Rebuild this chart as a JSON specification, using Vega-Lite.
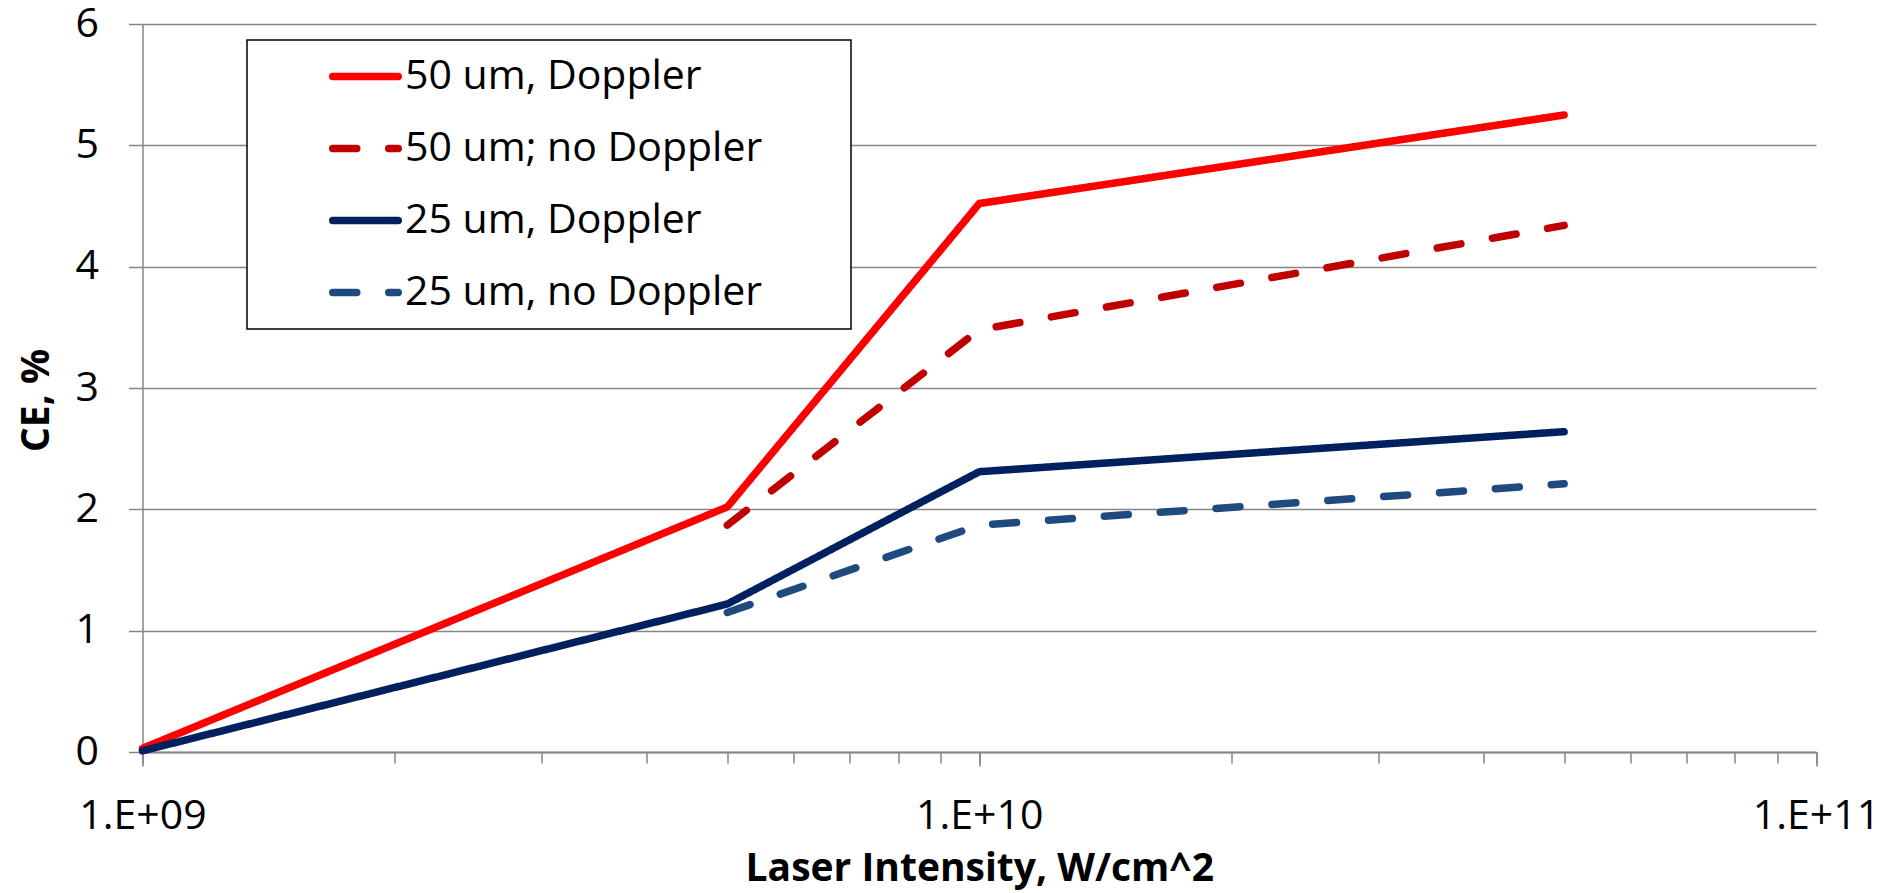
{
  "$schema": "https://vega.github.io/schema/vega-lite/v6.json",
  "width": 1673.5,
  "height": 728,
  "autosize": {"type": "none"},
  "padding": {"left": 142.5, "top": 24, "right": 77, "bottom": 141},
  "background": "white",
  "config": {"view": {"stroke": null}, "font": "Open Sans", "legend": {"strokeWidth": 1.5}},
  "data": {
    "values": [
      {"series": "50 um, Doppler", "intensity": 1000000000, "ce": 0.03},
      {"series": "50 um, Doppler", "intensity": 5000000000, "ce": 2.02},
      {"series": "50 um, Doppler", "intensity": 10000000000, "ce": 4.52},
      {"series": "50 um, Doppler", "intensity": 50000000000, "ce": 5.25},
      {"series": "50 um; no Doppler", "intensity": 5000000000, "ce": 1.87},
      {"series": "50 um; no Doppler", "intensity": 10000000000, "ce": 3.48},
      {"series": "50 um; no Doppler", "intensity": 50000000000, "ce": 4.34},
      {"series": "25 um, Doppler", "intensity": 1000000000, "ce": 0.01},
      {"series": "25 um, Doppler", "intensity": 5000000000, "ce": 1.22},
      {"series": "25 um, Doppler", "intensity": 10000000000, "ce": 2.31},
      {"series": "25 um, Doppler", "intensity": 50000000000, "ce": 2.64},
      {"series": "25 um, no Doppler", "intensity": 5000000000, "ce": 1.15},
      {"series": "25 um, no Doppler", "intensity": 10000000000, "ce": 1.87},
      {"series": "25 um, no Doppler", "intensity": 50000000000, "ce": 2.21}
    ]
  },
  "layer": [
    {
      "mark": {"type": "line", "strokeWidth": 7.5, "strokeCap": "round", "strokeJoin": "round"},
      "encoding": {
        "x": {
          "field": "intensity", "type": "quantitative",
          "scale": {"type": "log", "domain": [1000000000, 100000000000], "nice": false},
          "axis": {
            "orient": "bottom",
            "values": [1000000000, 2000000000, 3000000000, 4000000000, 5000000000, 6000000000, 7000000000, 8000000000, 9000000000, 10000000000, 20000000000, 30000000000, 40000000000, 50000000000, 60000000000, 70000000000, 80000000000, 90000000000, 100000000000],
            "labels": false, "title": null, "grid": false,
            "tickSize": 11, "tickColor": "#868686", "tickWidth": 1.5,
            "domainColor": "#868686", "domainWidth": 1.5
          }
        },
        "y": {
          "field": "ce", "type": "quantitative",
          "scale": {"domain": [0, 6], "nice": false},
          "axis": {
            "orient": "left",
            "values": [0, 1, 2, 3, 4, 5, 6],
            "grid": true, "gridColor": "#868686", "gridWidth": 1.5,
            "tickSize": 14, "tickColor": "#868686", "tickWidth": 1.5,
            "domainColor": "#868686", "domainWidth": 1.5,
            "labelFont": "Open Sans", "labelFontSize": 41, "labelColor": "black", "labelPadding": 30,
            "title": "CE, %", "titleFont": "Open Sans", "titleFontSize": 39, "titleFontWeight": "bold",
            "titleColor": "black", "titlePadding": 19, "titleY": 376
          }
        },
        "color": {
          "field": "series", "type": "nominal",
          "scale": {
            "domain": ["50 um, Doppler", "50 um; no Doppler", "25 um, Doppler", "25 um, no Doppler"],
            "range": ["#FF0000", "#C00000", "#002060", "#1F4A7F"]
          },
          "legend": {
            "orient": "none", "legendX": 104.5, "legendY": 16, "title": null,
            "padding": 16, "fillColor": "white", "strokeColor": "black",
            "symbolType": "stroke", "symbolSize": 4290, "symbolStrokeWidth": 7.5,
            "symbolOffset": 66, "labelOffset": 3, "clipHeight": 41,
            "labelFont": "Open Sans", "labelFontSize": 41, "labelColor": "black", "labelLimit": 1000,
            "rowPadding": 30, "labelExpr": "datum.label + '    \u2800'",
            "encode": {"symbols": {"update": {"strokeCap": {"value": "round"}}}}
          }
        },
        "strokeDash": {
          "field": "series", "type": "nominal",
          "scale": {
            "domain": ["50 um, Doppler", "50 um; no Doppler", "25 um, Doppler", "25 um, no Doppler"],
            "range": [[1, 0], [24, 32], [1, 0], [24, 32]]
          },
          "legend": {
            "orient": "none", "legendX": 104.5, "legendY": 16, "title": null,
            "padding": 16, "fillColor": "white", "strokeColor": "black",
            "symbolType": "stroke", "symbolSize": 4290, "symbolStrokeWidth": 7.5,
            "symbolOffset": 66, "labelOffset": 3, "clipHeight": 41,
            "labelFont": "Open Sans", "labelFontSize": 41, "labelColor": "black", "labelLimit": 1000,
            "rowPadding": 30, "labelExpr": "datum.label + '    \u2800'",
            "encode": {"symbols": {"update": {"strokeCap": {"value": "round"}}}}
          }
        }
      }
    },
    {
      "mark": {"type": "point", "opacity": 0},
      "encoding": {
        "x": {
          "field": "intensity", "type": "quantitative",
          "scale": {"type": "log", "domain": [1000000000, 100000000000], "nice": false},
          "axis": {
            "orient": "bottom",
            "values": [1000000000, 10000000000, 100000000000],
            "grid": false,
            "tickSize": 14, "tickColor": "#868686", "tickWidth": 1.5,
            "domainColor": "#868686", "domainWidth": 1.5,
            "labelExpr": "datum.value == 1000000000 ? '1.E+09' : datum.value == 10000000000 ? '1.E+10' : '1.E+11'",
            "labelFont": "Open Sans", "labelFontSize": 41, "labelColor": "black", "labelPadding": 30,
            "labelFlush": false, "labelOverlap": false,
            "title": "Laser Intensity, W/cm^2", "titleFont": "Open Sans", "titleFontSize": 39,
            "titleFontWeight": "bold", "titleColor": "black", "titlePadding": 13
          }
        },
        "y": {
          "field": "ce", "type": "quantitative",
          "scale": {"domain": [0, 6], "nice": false},
          "axis": {
            "orient": "left",
            "values": [0, 1, 2, 3, 4, 5, 6],
            "grid": true, "gridColor": "#868686", "gridWidth": 1.5,
            "tickSize": 14, "tickColor": "#868686", "tickWidth": 1.5,
            "domainColor": "#868686", "domainWidth": 1.5,
            "labelFont": "Open Sans", "labelFontSize": 41, "labelColor": "black", "labelPadding": 30,
            "title": "CE, %", "titleFont": "Open Sans", "titleFontSize": 39, "titleFontWeight": "bold",
            "titleColor": "black", "titlePadding": 19, "titleY": 376
          }
        }
      }
    }
  ],
  "resolve": {"axis": {"x": "independent"}}
}
